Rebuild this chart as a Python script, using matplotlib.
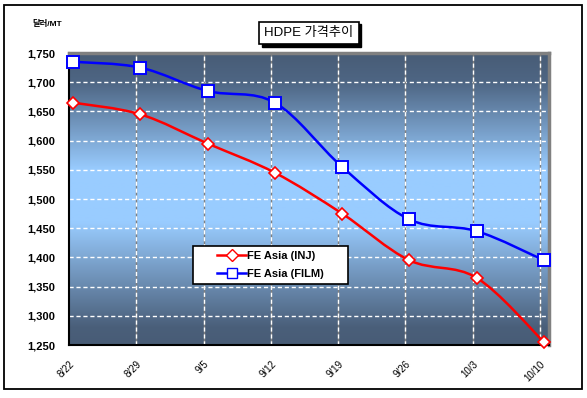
import matplotlib.pyplot as plt
import numpy as np
from matplotlib.colors import LinearSegmentedColormap
from matplotlib.lines import Line2D
from matplotlib.path import Path
from matplotlib.patches import PathPatch, Rectangle

plt.rcParams['font.family'] = ['Liberation Sans', 'Noto Sans CJK KR', 'DejaVu Sans']

# Daten
dates = ['8/22', '8/29', '9/5', '9/12', '9/19', '9/26', '10/3', '10/10']
inj = [1665, 1645, 1595, 1545, 1475, 1395, 1365, 1255]
film = [1735, 1725, 1685, 1665, 1555, 1465, 1445, 1395]
yticks = [1250, 1300, 1350, 1400, 1450, 1500, 1550, 1600, 1650, 1700, 1750]
title = 'HDPE 가격추이'
unit = '달러/MT'
names = ['FE Asia (INJ)', 'FE Asia (FILM)']


def smoothPath(xs, ys):
    """ glatte Kurve wie in Excel (Bezier durch alle Punkte) """
    pts = np.column_stack([xs, ys]).astype(float)
    ext = np.vstack([pts[0], pts, pts[-1]])
    verts = [pts[0]]
    codes = [Path.MOVETO]
    for i in range(len(pts) - 1):
        p0, p1, p2, p3 = ext[i], ext[i + 1], ext[i + 2], ext[i + 3]
        verts += [p1 + (p2 - p0) / 6, p2 - (p3 - p1) / 6, p2]
        codes += [Path.CURVE4] * 3
    return Path(verts, codes)


fig = plt.figure(figsize=(5.87, 3.98), dpi=100)
fig.patches.append(Rectangle((4 / 587, 1 - 389 / 398), 578 / 587, 384 / 398, transform=fig.transFigure,
                             fill=False, edgecolor='black', linewidth=1.3))

ax = fig.add_axes([69 / 587, 1 - 345 / 398, 480 / 587, 292 / 398])
x = np.arange(len(dates))
xmin, xmax = -0.06, len(dates) - 1 + 0.075
ymin, ymax = yticks[0], yticks[-1]

# Hintergrund mit Farbverlauf
cmap = LinearSegmentedColormap.from_list('bg', [(0, '#485c76'), (0.06, '#4a5f7a'), (0.42, '#99ccff'),
                                               (0.6, '#99ccff'), (0.9, '#4e6684'), (1, '#485c76')])
grad = np.linspace(0, 1, 256).reshape(-1, 1)
ax.imshow(grad, cmap=cmap, extent=[xmin, xmax, ymin, ymax], origin='lower', aspect='auto', zorder=0)

# Gitterlinien
for yv in yticks[1:-1]:
    ax.axhline(yv, color='white', linewidth=1, linestyle=(0, (3, 2)), zorder=1)
for xv in x[1:] - 0.06:
    ax.axvline(xv, color='#808080', linewidth=1, zorder=1)
    ax.axvline(xv, color='white', linewidth=1, linestyle=(0, (3, 2)), zorder=1)

# Linien und Marker
ax.add_patch(PathPatch(smoothPath(x, inj), fill=False, edgecolor='#ff0000', linewidth=1.8, zorder=3))
ax.add_patch(PathPatch(smoothPath(x, film), fill=False, edgecolor='#0000ff', linewidth=1.8, zorder=3))
ax.plot(x, inj, linestyle='none', marker='D', markersize=6, markerfacecolor='white',
        markeredgecolor='#ff0000', markeredgewidth=1.2, zorder=4, clip_on=False)
ax.plot(x, film, linestyle='none', marker='s', markersize=8, markerfacecolor='white',
        markeredgecolor='#0000ff', markeredgewidth=1.4, zorder=4, clip_on=False)

ax.set_xlim(xmin, xmax)
ax.set_ylim(ymin, ymax)
ax.set_yticks(yticks)
ax.set_yticklabels(['{:,}'.format(v) for v in yticks], fontsize=8, fontweight='bold')
ax.set_xticks(x - 0.06)
ax.set_xticklabels(dates, fontsize=7, rotation=45, ha='right', va='top', rotation_mode='anchor')
ax.tick_params(axis='y', length=0, pad=10)
ax.tick_params(axis='x', length=0, pad=10)

for s in ['left', 'bottom']:
    ax.spines[s].set_color('black')
    ax.spines[s].set_linewidth(1.5)
for s in ['top', 'right']:
    ax.spines[s].set_color('#808080')
    ax.spines[s].set_linewidth(2.5)

# Legende
handles = [Line2D([], [], color='#ff0000', linewidth=1.8, marker='D', markersize=6,
                  markerfacecolor='white', markeredgecolor='#ff0000'),
           Line2D([], [], color='#0000ff', linewidth=1.8, marker='s', markersize=7,
                  markerfacecolor='white', markeredgecolor='#0000ff')]
leg = ax.legend(handles, names, loc='center', mode='expand', alignment='center',
                bbox_to_anchor=(124 / 480, (345 - 287) / 292, 155 / 480, 44 / 292),
                borderaxespad=0, fancybox=False, framealpha=1, edgecolor='black',
                prop={'size': 8, 'weight': 'bold'}, handlelength=2.6, handletextpad=0.1,
                borderpad=0.5, labelspacing=0.7)
# Einträge mittig in der breiten Box
leg._legend_handle_box.mode = 'fixed'
leg.get_frame().set_linewidth(1.2)
leg.set_zorder(5)

# Titel mit Schatten
ttl = fig.text(309 / 587, 1 - 33 / 398, title, fontsize=9.5, ha='center', va='center', color='black',
               zorder=3, bbox=dict(boxstyle='square,pad=0.4', facecolor='white', edgecolor='black',
                                   linewidth=1.2))
fig.canvas.draw()
bb = ttl.get_bbox_patch().get_window_extent(fig.canvas.get_renderer())
bb = bb.transformed(fig.transFigure.inverted())
fig.patches.append(Rectangle((bb.x0 + 2.5 / 587, bb.y0 - 2.5 / 398), bb.width, bb.height,
                             transform=fig.transFigure, facecolor='black', edgecolor='black', zorder=2))

fig.text(32 / 587, 1 - 24 / 398, unit, fontsize=6, fontweight='bold', ha='left', va='center')

fig.savefig('out.png', dpi=100)
